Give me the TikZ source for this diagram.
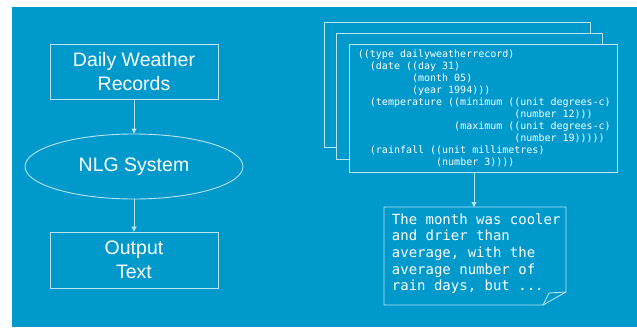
\documentclass[tikz,border=0pt]{standalone}
\usepackage{fontspec}
\setmainfont{Liberation Sans}
\newfontfamily\codefont{DejaVu Sans Mono}
\usetikzlibrary{shapes.geometric,arrows.meta}
\definecolor{slideblue}{RGB}{0,153,204}
\definecolor{lineblue}{RGB}{185,228,244}
\tikzset{
  flow/.style={draw=lineblue,line width=0.9pt,-{Triangle[width=5pt,length=5pt]}},
  box/.style={draw=lineblue,line width=0.9pt,inner sep=0pt,text=white,align=center,
    font=\fontsize{19.5}{24.3}\selectfont},
  page/.style={draw=lineblue,line width=0.9pt,fill=slideblue},
  mono/.style={inner sep=0pt,text=white,align=left},
}
\newcommand\col[1]{\hspace*{#1\fontcharwd\font`x}}

\begin{document}
\begin{tikzpicture}[x=1pt,y=-1pt]
    \useasboundingbox (0,0) rectangle (637,327);
    \fill[white] (0,0) rectangle (637,327);
    \fill[slideblue] (12,7) rectangle (637,327);
    % pipeline
    \node[box,minimum width=168pt,minimum height=55pt] at (134,71.5) (dwr) {Daily Weather\\Records};
    \node[box,ellipse,minimum width=218pt,minimum height=65pt] at (134,166.5) (nlg) {NLG System};
    \node[box,minimum width=168pt,minimum height=56pt] at (134,260) (out) {Output\\Text};
    \draw[flow] (dwr) -- (nlg);
    \draw[flow] (nlg) -- (out);
    % stack of records (base anchor = last line)
    \draw[page] (324,22) rectangle (590,147);
    \draw[page] (336,33) rectangle (602,159);
    \node[page,minimum width=268pt,minimum height=128pt] at (483,108) (rec) {};
    \node[mono,anchor=base west,font=\codefont\fontsize{10}{12}\selectfont] at (357.7,165.7) (code)
      {((type dailyweatherrecord)\\
       \col{2}(date ((day 31)\\
       \col{9}(month 05)\\
       \col{9}(year 1994)))\\
       \col{2}(temperature ((minimum ((unit degrees-c)\\
       \col{26}(number 12)))\\
       \col{16}(maximum ((unit degrees-c)\\
       \col{26}(number 19)))))\\
       \col{2}(rainfall ((unit millimetres)\\
       \col{13}(number 3))))};
    % generated text, folded corner
    \coordinate (msgtop) at (474,207);
    \draw[page] (384,207) -- (566,207) -- (566,292) -- (543,305) -- (384,305) -- cycle;
    \draw[draw=lineblue,line width=0.9pt] (543,305) -- (549,293) -- (566,292);
    \node[mono,anchor=base west,font=\codefont\fontsize{14}{16.7}\selectfont] at (391.7,290.8) (msg)
      {The month was cooler\\
       and drier than\\
       average, with the\\
       average number of\\
       rain days, but ...};
    \draw[flow] (rec.south -| msgtop) -- (msgtop);
\end{tikzpicture}
\end{document}
